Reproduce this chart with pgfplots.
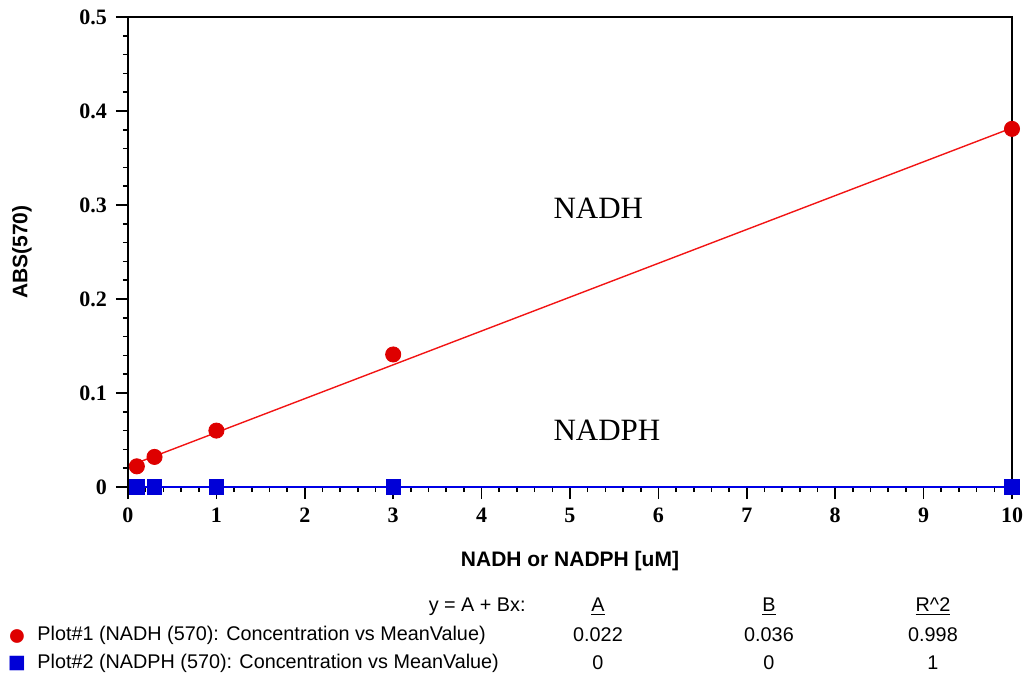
\documentclass[border=0pt]{standalone}
\usepackage{fontspec}
\setmainfont{Liberation Sans}
\newfontfamily\timesfont{Liberation Serif}
\usepackage{pgfplots}
\pgfplotsset{compat=1.18}
\definecolor{ptred}{RGB}{222,0,0}
\definecolor{linered}{RGB}{242,20,20}
\definecolor{ptblue}{RGB}{0,0,215}
\definecolor{lineblue}{RGB}{0,0,230}

\pgfplotstableread{
x y
0.1 0.022
0.3 0.032
1 0.060
3 0.141
10 0.381
}\nadh
\pgfplotstableread{
x y
0.1 0
0.3 0
1 0
3 0
10 0
}\nadph

\begin{document}
\begin{tikzpicture}
\useasboundingbox (-64pt,-95pt) rectangle (448.5pt,243.5pt);
\begin{axis}[
  scale only axis,
  width=442pt, height=235pt,
  at={(0,0)}, anchor=south west,
  xmin=0, xmax=10, ymin=0, ymax=0.5,
  xtick={0,1,...,10},
  ytick={0,0.1,0.2,0.3,0.4,0.5},
  minor tick num=4,
  tick align=outside,
  xtick pos=bottom, ytick pos=left,
  major tick length=6pt, minor tick length=2.5pt,
  axis line style={line width=0.8pt},
  every tick/.style={black, line width=0.8pt},
  /pgf/number format/assume math mode=true,
  ticklabel style={font=\timesfont\bfseries\fontsize{11}{12}\selectfont},
  xticklabel style={yshift=-1pt},
  yticklabel style={xshift=-1pt},
  xlabel={NADH or NADPH [uM]},
  ylabel={ABS(570)},
  every axis x label/.style={at={([yshift=-37pt]axis description cs:0.5,0)}, anchor=center,
    font=\bfseries\fontsize{10.5}{12}\selectfont},
  every axis y label/.style={at={([xshift=-53pt]axis description cs:0,0.5)}, anchor=center, rotate=90,
    font=\bfseries\fontsize{10.5}{12}\selectfont},
  clip=false,
]
% fit lines (y = A + Bx)
\addplot[linered, line width=0.7pt] coordinates {(0.1,0.0256) (10,0.382)};
\addplot[lineblue, line width=0.7pt] coordinates {(0.1,0) (10,0)};
% measured means
\addplot[only marks, mark=*, mark size=3.8pt, color=ptred] table {\nadh};
\addplot[only marks, mark=square*, mark size=3.6pt, color=ptblue] table {\nadph};
\node[anchor=west, inner sep=0pt, font=\timesfont\fontsize{15.5}{18}\selectfont] at (axis cs:4.81,0.297) {NADH};
\node[anchor=west, inner sep=0pt, font=\timesfont\fontsize{15.5}{18}\selectfont] at (axis cs:4.81,0.0606) {NADPH};
\end{axis}
% fit summary below the chart
\begin{scope}[every node/.style={font=\fontsize{9.9}{11}\selectfont, inner sep=0pt}]
\node[anchor=east] at (199pt,-60pt) {y = A + Bx:};
\node at (235pt,-60pt) {\underline{A}};
\node at (320.5pt,-60pt) {\underline{B}};
\node at (402.5pt,-60pt) {\underline{R\^{}2}};
\node[text=ptred, font=\fontsize{16}{16}\selectfont] at (-55.5pt,-74pt) {\smash{\raisebox{-0.33em}{●}}};
\node[anchor=west] at (-45.5pt,-74pt) {Plot\#1 (NADH (570): Concentration vs MeanValue)};
\node at (235pt,-74pt) {0.022};
\node at (320.5pt,-74pt) {0.036};
\node at (402.5pt,-74pt) {0.998};
\node[text=ptblue, font=\fontsize{15}{15}\selectfont] at (-55.5pt,-88pt) {\smash{\raisebox{-0.33em}{■}}};
\node[anchor=west] at (-45.5pt,-88pt) {Plot\#2 (NADPH (570): Concentration vs MeanValue)};
\node at (235pt,-88pt) {0};
\node at (320.5pt,-88pt) {0};
\node at (402.5pt,-88pt) {1};
\end{scope}
\end{tikzpicture}
\end{document}
